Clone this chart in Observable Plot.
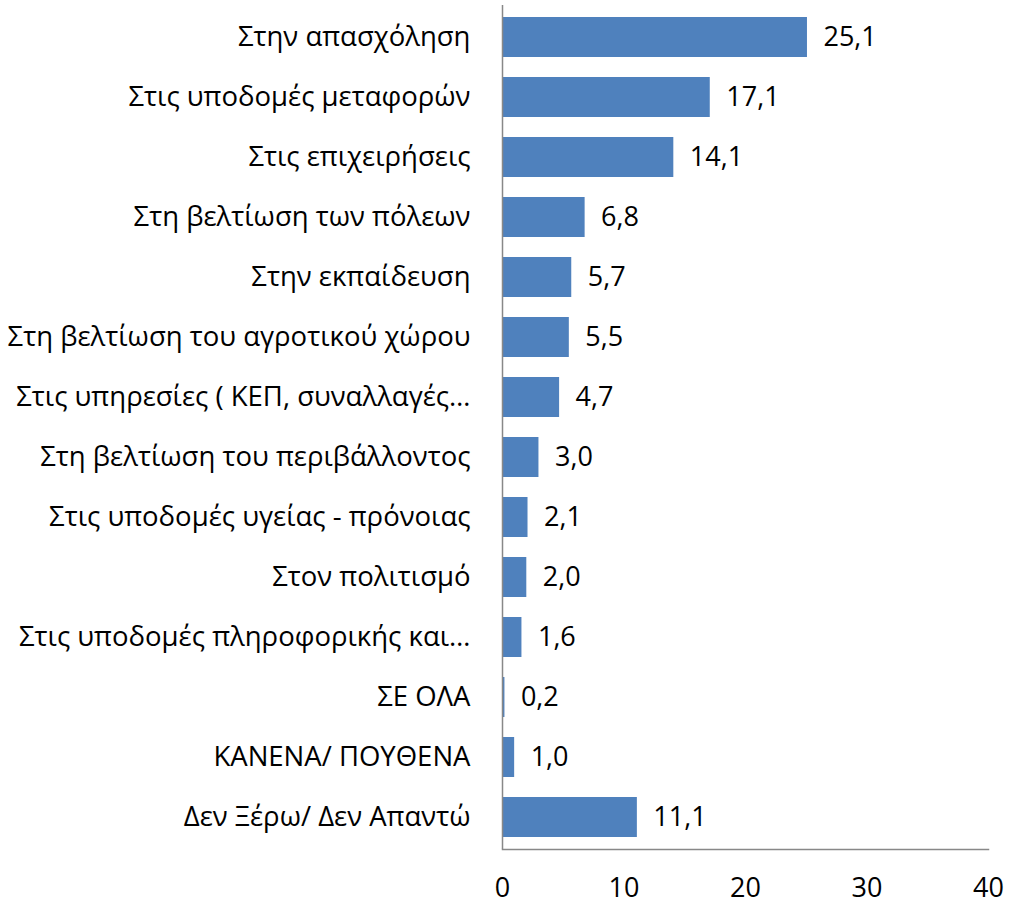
<!DOCTYPE html>
<html>
<head>
<meta charset="utf-8">
<script src="https://cdn.jsdelivr.net/npm/d3@7"></script>
<script src="https://cdn.jsdelivr.net/npm/@observablehq/plot@0.6"></script>
<style>
  html, body { margin: 0; padding: 0; background: #fff; }
  #chart svg { display: block; }
</style>
</head>
<body>
<div id="chart"></div>
<script>
const categories = [
  "Στην απασχόληση",
  "Στις υποδομές μεταφορών",
  "Στις επιχειρήσεις",
  "Στη βελτίωση των πόλεων",
  "Στην εκπαίδευση",
  "Στη βελτίωση του αγροτικού χώρου",
  "Στις υπηρεσίες ( ΚΕΠ, συναλλαγές…",
  "Στη βελτίωση του περιβάλλοντος",
  "Στις υποδομές υγείας - πρόνοιας",
  "Στον πολιτισμό",
  "Στις υποδομές πληροφορικής και…",
  "ΣΕ ΟΛΑ",
  "ΚΑΝΕΝΑ/ ΠΟΥΘΕΝΑ",
  "Δεν Ξέρω/ Δεν Απαντώ"
];
const values = [25.1, 17.1, 14.1, 6.8, 5.7, 5.5, 4.7, 3.0, 2.1, 2.0, 1.6, 0.2, 1.0, 11.1];
const xTicks = [0, 10, 20, 30, 40];

const data = categories.map((c, i) => ({category: c, value: values[i]}));
const fmt = v => v.toFixed(1).replace(".", ",");

const chart = Plot.plot({
  width: 1009,
  height: 906,
  marginLeft: 502,
  marginRight: 21,
  marginTop: 5,
  marginBottom: 57,
  style: {fontFamily: "'Open Sans', sans-serif", fontSize: "27px", color: "#000", background: "#fff"},
  x: {domain: [0, 40], ticks: xTicks, label: null},
  y: {domain: categories, label: null, paddingInner: 0.33, paddingOuter: 0.165},
  marks: [
    Plot.barX(data, {x: "value", y: "category", fill: "#4F81BD"}),
    Plot.text(data, {x: "value", y: "category", text: d => fmt(d.value), textAnchor: "start", dx: 16, fontSize: 27, fill: "#000"}),
    Plot.ruleX([0], {stroke: "#888", strokeWidth: 1.5}),
    Plot.frame({anchor: "bottom", stroke: "#888", strokeWidth: 1.5}),
    Plot.axisX({ticks: xTicks, tickSize: 0, tickPadding: 28, fontSize: 27, label: null, tickFormat: d => String(d)}),
    Plot.axisY({tickSize: 0, tickPadding: 32, fontSize: 27.5, label: null})
  ]
});
document.getElementById("chart").appendChild(chart);
</script>
</body>
</html>
